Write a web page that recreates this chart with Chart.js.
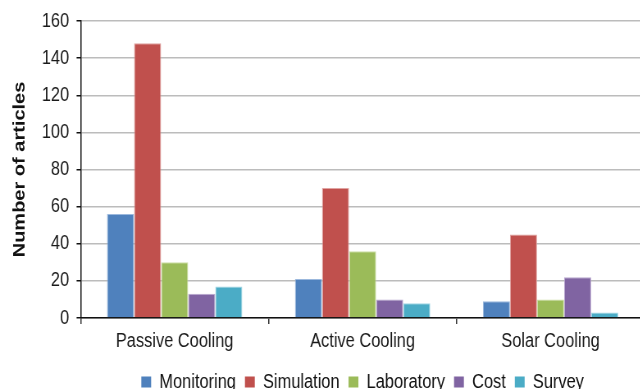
<!DOCTYPE html>
<html>
<head>
<meta charset="utf-8">
<script src="https://cdn.jsdelivr.net/npm/chart.js@4/dist/chart.umd.min.js"></script>
<style>
  html, body { margin: 0; padding: 0; background: #fff; overflow: hidden; width: 640px; height: 389px; }
  /* the source image is squeezed horizontally, so draw wide and squeeze */
  #wrap { width: 788px; height: 389px; transform: scaleX(0.82); transform-origin: 0 0; }
</style>
</head>
<body>
<div id="wrap"><canvas id="chart"></canvas></div>
<script>
// chart data
const categories = ["Passive Cooling", "Active Cooling", "Solar Cooling"];
const monitoring = [56, 21, 9];
const simulation = [148, 70, 45];
const laboratory = [30, 36, 10];
const cost = [13, 10, 22];
const survey = [17, 8, 3];
const yTicks = [0, 20, 40, 60, 80, 100, 120, 140, 160];

const FONT = "Liberation Sans, Arial, sans-serif";

const series = [
  { label: "Monitoring", data: monitoring, color: "#4F81BD", edge: "#9bb8dd" },
  { label: "Simulation", data: simulation, color: "#C0504D", edge: "#e0a3a1" },
  { label: "Laboratory", data: laboratory, color: "#9BBB59", edge: "#cde0a8" },
  { label: "Cost", data: cost, color: "#8064A2", edge: "#b9a8d0" },
  { label: "Survey", data: survey, color: "#4BACC6", edge: "#a3d8e6" }
];

new Chart(document.getElementById("chart"), {
  type: "bar",
  data: {
    labels: categories,
    datasets: series.map(s => ({
      label: s.label,
      data: s.data,
      backgroundColor: s.color,
      borderColor: s.edge,
      borderWidth: 1,
      categoryPercentage: 0.72,
      barPercentage: 1
    }))
  },
  options: {
    responsive: true,
    maintainAspectRatio: false,
    animation: false,
    layout: { padding: { top: 9, left: 12, right: 2, bottom: -13 } },
    plugins: {
      tooltip: { enabled: false },
      legend: {
        position: "bottom",
        fullSize: false,
        labels: {
          boxWidth: 12,
          boxHeight: 11,
          padding: 11,
          color: "#111",
          font: { family: FONT, size: 20 },
          generateLabels: chart => chart.data.datasets.map((d, i) => ({
            text: d.label,
            fillStyle: d.backgroundColor,
            strokeStyle: d.backgroundColor,
            lineWidth: 0,
            datasetIndex: i,
            fontColor: "#111"
          }))
        }
      }
    },
    scales: {
      x: {
        afterFit: axis => { axis.height += 3; },
        grid: {
          offset: true,
          drawOnChartArea: false,
          drawTicks: true,
          tickLength: 6,
          tickColor: "#333",
          lineWidth: 1.5
        },
        border: { color: "#111", width: 1.5 },
        ticks: {
          color: "#1a1a1a",
          padding: 5,
          font: { family: FONT, size: 20 }
        }
      },
      y: {
        min: 0,
        max: 160,
        afterBuildTicks: axis => { axis.ticks = yTicks.map(v => ({ value: v })); },
        grid: {
          color: "#bcbcbc",
          lineWidth: 1.5,
          drawTicks: true,
          tickLength: 5,
          tickColor: "#111"
        },
        border: { color: "#111", width: 1.5 },
        ticks: {
          color: "#1a1a1a",
          padding: 9,
          font: { family: FONT, size: 20 }
        },
        title: {
          display: true,
          text: "Number of articles",
          color: "#111",
          padding: { top: 0, bottom: 6 },
          font: { family: FONT, size: 20, weight: "bold" }
        }
      }
    }
  }
});
</script>
</body>
</html>
